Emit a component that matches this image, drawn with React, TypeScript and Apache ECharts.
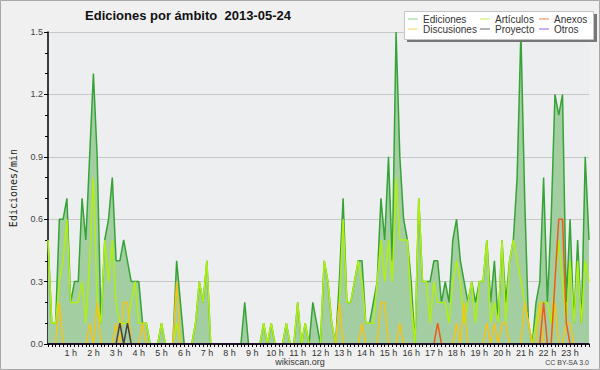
import React, { useEffect, useRef } from 'react';
import * as echarts from 'echarts';

const TITLE = 'Ediciones por ámbito  2013-05-24';
const Y_NAME = 'Ediciones/min';
const HOUR_LABELS = ['1 h','2 h','3 h','4 h','5 h','6 h','7 h','8 h','9 h','10 h','11 h','12 h','13 h','14 h','15 h','16 h','17 h','18 h','19 h','20 h','21 h','22 h','23 h'];

const EDICIONES = [
  0.5, 0.1, 0.1, 0.6, 0.6, 0.7, 0.2, 0.3, 0.3, 0.7, 0.5, 0.9,
  1.3, 0.9, 0.1, 0.5, 0.6, 0.8, 0.4, 0.4, 0.5, 0.4, 0.3, 0.3,
  0.3, 0.1, 0.1, 0, 0, 0, 0.1, 0, 0, 0, 0.4, 0.2,
  0, 0, 0, 0.1, 0.3, 0.2, 0.4, 0, 0, 0, 0, 0,
  0, 0, 0, 0, 0.2, 0, 0, 0, 0, 0.1, 0, 0.1,
  0, 0, 0, 0.1, 0, 0, 0.2, 0, 0.1, 0, 0.2, 0.1,
  0, 0.4, 0.3, 0.1, 0, 0.3, 0.7, 0.2, 0.2, 0.3, 0.4, 0.4,
  0.1, 0.1, 0.2, 0.3, 0.7, 0.5, 0.9, 0.4, 1.5, 0.9, 0.6, 0.5,
  0.3, 0, 0.7, 0.3, 0.3, 0.3, 0.4, 0.4, 0.2, 0.3, 0.2, 0.5,
  0.6, 0.4, 0.3, 0.2, 0.3, 0.2, 0.3, 0.3, 0.5, 0.2, 0.4, 0.1,
  0.5, 0.2, 0.4, 0.5, 0.8, 1.5, 0.7, 0.1, 0, 0.2, 0.3, 0.8,
  0.2, 0.6, 1.2, 1.1, 1.2, 0.2, 0.6, 0.1, 0.5, 0.1, 0.9, 0.5,
];

const ARTICULOS = [
  0.5, 0.1, 0.1, 0.3, 0.4, 0.6, 0.2, 0.2, 0.2, 0.3, 0.1, 0.4,
  0.8, 0.2, 0.1, 0.5, 0.3, 0.5, 0.2, 0.1, 0.1, 0.1, 0.2, 0.3,
  0.1, 0.1, 0.1, 0, 0, 0, 0.1, 0, 0, 0, 0.1, 0,
  0, 0, 0, 0.1, 0.3, 0.2, 0.4, 0, 0, 0, 0, 0,
  0, 0, 0, 0, 0, 0, 0, 0, 0, 0.1, 0, 0.1,
  0, 0, 0, 0.1, 0, 0, 0.2, 0, 0.1, 0, 0, 0,
  0, 0.4, 0.3, 0.1, 0, 0.2, 0.6, 0.2, 0.2, 0.3, 0.4, 0.3,
  0.1, 0.1, 0.1, 0.3, 0.5, 0.3, 0.5, 0.3, 0.8, 0.5, 0.5, 0.5,
  0.2, 0, 0.7, 0.3, 0.3, 0.1, 0.3, 0.2, 0.2, 0.2, 0.1, 0.3,
  0.4, 0.3, 0.1, 0.2, 0.3, 0.1, 0.3, 0.3, 0.5, 0.1, 0.2, 0.1,
  0.5, 0.1, 0.4, 0.5, 0.4, 0.3, 0.2, 0.1, 0, 0.1, 0.2, 0.2,
  0.2, 0.1, 0.3, 0.5, 0.3, 0.1, 0.4, 0.1, 0.4, 0.1, 0.4, 0.3,
];

const DISCUSIONES = [
  0, 0, 0, 0.2, 0, 0, 0, 0, 0, 0, 0, 0.1,
  0, 0.2, 0, 0, 0, 0, 0.1, 0, 0.2, 0.2, 0, 0,
  0, 0.1, 0, 0, 0, 0, 0, 0, 0, 0, 0.3, 0,
  0, 0, 0, 0, 0, 0, 0, 0, 0, 0, 0, 0,
  0, 0, 0, 0, 0, 0, 0, 0, 0, 0, 0, 0,
  0, 0, 0, 0, 0, 0, 0, 0, 0, 0, 0, 0,
  0, 0, 0, 0, 0, 0.2, 0, 0, 0, 0, 0, 0.1,
  0, 0, 0, 0, 0.2, 0.2, 0, 0, 0, 0.1, 0, 0,
  0, 0, 0, 0, 0, 0, 0, 0, 0, 0, 0, 0,
  0.1, 0, 0.2, 0, 0, 0, 0, 0, 0.1, 0, 0.1, 0,
  0.1, 0.1, 0, 0, 0, 0, 0.2, 0.1, 0, 0, 0.2, 0,
  0, 0, 0.2, 0, 0, 0.1, 0.1, 0, 0, 0, 0, 0,
];

const ANEXOS = [
  0, 0, 0, 0, 0, 0, 0, 0, 0, 0, 0, 0,
  0, 0, 0, 0, 0, 0, 0, 0, 0, 0, 0, 0,
  0, 0, 0, 0, 0, 0, 0, 0, 0, 0, 0, 0,
  0, 0, 0, 0, 0, 0, 0, 0, 0, 0, 0, 0,
  0, 0, 0, 0, 0, 0, 0, 0, 0, 0, 0, 0,
  0, 0, 0, 0, 0, 0, 0, 0, 0, 0, 0, 0,
  0, 0, 0, 0, 0, 0, 0, 0, 0, 0, 0, 0,
  0, 0, 0, 0, 0, 0, 0, 0, 0, 0, 0, 0,
  0, 0, 0, 0, 0, 0, 0, 0.1, 0, 0, 0, 0,
  0, 0, 0, 0, 0, 0, 0, 0, 0, 0, 0, 0,
  0, 0, 0, 0, 0, 0, 0, 0, 0, 0, 0, 0.2,
  0, 0, 0.3, 0.6, 0.6, 0.1, 0, 0, 0, 0, 0, 0,
];

const PROYECTO = [
  0, 0, 0, 0, 0, 0, 0, 0, 0, 0, 0, 0,
  0, 0, 0, 0, 0, 0, 0, 0.1, 0, 0.1, 0, 0,
  0, 0, 0, 0, 0, 0, 0, 0, 0, 0, 0, 0,
  0, 0, 0, 0, 0, 0, 0, 0, 0, 0, 0, 0,
  0, 0, 0, 0, 0, 0, 0, 0, 0, 0, 0, 0,
  0, 0, 0, 0, 0, 0, 0, 0, 0, 0, 0, 0,
  0, 0, 0, 0, 0, 0, 0, 0, 0, 0, 0, 0,
  0, 0, 0, 0, 0, 0, 0, 0, 0, 0, 0, 0,
  0, 0, 0, 0, 0, 0, 0, 0, 0, 0, 0, 0,
  0, 0, 0, 0, 0, 0, 0, 0, 0, 0, 0, 0,
  0, 0, 0, 0, 0, 0, 0, 0, 0, 0, 0, 0,
  0, 0, 0, 0, 0, 0, 0, 0, 0, 0, 0, 0,
];

const OTROS = [
  0, 0, 0, 0, 0, 0, 0, 0, 0, 0, 0, 0,
  0, 0, 0, 0, 0, 0, 0, 0, 0, 0, 0, 0,
  0, 0, 0, 0, 0, 0, 0, 0, 0, 0, 0, 0,
  0, 0, 0, 0, 0, 0, 0, 0, 0, 0, 0, 0,
  0, 0, 0, 0, 0, 0, 0, 0, 0, 0, 0, 0,
  0, 0, 0, 0, 0, 0, 0, 0, 0, 0, 0, 0,
  0, 0, 0, 0, 0, 0, 0, 0, 0, 0, 0, 0,
  0, 0, 0, 0, 0, 0, 0, 0, 0, 0, 0, 0,
  0, 0, 0, 0, 0, 0, 0, 0, 0, 0, 0, 0,
  0, 0, 0, 0, 0, 0, 0, 0, 0, 0, 0, 0,
  0, 0, 0, 0, 0, 0, 0, 0, 0, 0, 0, 0,
  0, 0, 0, 0, 0, 0, 0, 0, 0, 0, 0, 0,
];

// 10-minute slots of the day
const CATEGORIES: string[] = [];
for (let h = 0; h < 24; h++) {
  for (let m = 0; m < 60; m += 10) {
    CATEGORIES.push(`${String(h).padStart(2, '0')}:${String(m).padStart(2, '0')}`);
  }
}

const FONT = '"Liberation Sans", Arial, sans-serif';

const SERIES_DEF = [
  { name: 'Ediciones', data: EDICIONES, color: '#36a336', legend: '#8fd08f', area: true },
  { name: 'Artículos', data: ARTICULOS, color: '#b0f010', legend: '#ccf060', area: false },
  { name: 'Discusiones', data: DISCUSIONES, color: '#f4c418', legend: '#f8d860', area: false },
  { name: 'Anexos', data: ANEXOS, color: '#ee5a1c', legend: '#f08050', area: false },
  { name: 'Proyecto', data: PROYECTO, color: '#444444', legend: '#666666', area: false },
  { name: 'Otros', data: OTROS, color: '#8a3cf0', legend: '#9a5cf0', area: false },
];

function legendCol(left: number, names: string[]) {
  return {
    show: true,
    orient: 'vertical',
    left,
    top: 14,
    padding: 0,
    itemGap: 0,
    itemWidth: 10,
    itemHeight: 1,
    icon: 'rect',
    selectedMode: false,
    z: 8,
    data: names,
    textStyle: { fontFamily: FONT, fontSize: 10, color: '#333', lineHeight: 10, padding: [0, 0, 0, 0] },
  };
}

export default function App() {
  const ref = useRef<HTMLDivElement>(null);
  useEffect(() => {
    const chart = echarts.init(ref.current!, null, { renderer: 'svg' });
    const option: any = {
      animation: false,
      backgroundColor: '#f0f0f0',
      grid: {
        left: 47, right: 11, top: 32, bottom: 26,
        show: true, backgroundColor: '#eceef0', borderWidth: 0,
      },
      legend: [
        legendCol(408, ['Ediciones', 'Discusiones']),
        legendCol(480, ['Artículos', 'Proyecto']),
        legendCol(539, ['Anexos', 'Otros']),
      ],
      xAxis: {
        type: 'category',
        data: CATEGORIES,
        boundaryGap: false,
        z: 3,
        axisLine: { show: true, lineStyle: { color: '#000', width: 1.5 } },
        axisTick: { show: true, interval: 0, length: 3, lineStyle: { color: '#000', width: 1 } },
        axisLabel: {
          interval: (i: number) => i > 0 && i % 6 === 0,
          formatter: (_v: string, i: number) => (i > 0 && i % 6 === 0 ? HOUR_LABELS[i / 6 - 1] : ''),
          fontFamily: FONT, fontSize: 9, color: '#333', margin: 4,
        },
        splitLine: { show: false },
      },
      yAxis: {
        type: 'value',
        min: 0, max: 1.5, interval: 0.3,
        name: Y_NAME,
        nameLocation: 'middle',
        nameRotate: 90,
        nameGap: 30,
        nameTextStyle: { fontFamily: '"DejaVu Sans Mono", monospace', fontSize: 10, color: '#222' },
        axisLine: { show: true, lineStyle: { color: '#000', width: 1.5 } },
        axisTick: { show: true, length: 4, lineStyle: { color: '#000' } },
        minorTick: { show: true, splitNumber: 3, length: 3, lineStyle: { color: '#000' } },
        axisLabel: {
          formatter: (v: number) => v.toFixed(1),
          fontFamily: FONT, fontSize: 9, color: '#444', margin: 5,
        },
        splitLine: { show: true, lineStyle: { color: '#c8c8c8', width: 1 } },
      },
      series: SERIES_DEF.map((s) => ({
        name: s.name,
        type: 'line',
        data: s.data,
        showSymbol: false,
        symbol: 'none',
        z: 2,
        color: s.legend,
        lineStyle: { color: s.color, width: 1.5 },
        itemStyle: { color: s.legend },
        areaStyle: s.area ? { color: '#a2cea2', opacity: 1 } : undefined,
        emphasis: { disabled: true },
      })),
      graphic: [
        {
          type: 'rect', z: 20, silent: true,
          shape: { x: 0.5, y: 0.5, width: 599, height: 369 },
          style: { fill: 'none', stroke: '#a8a8a8', lineWidth: 1 },
        },
        {
          type: 'text', z: 7, x: 188, y: 15,
          style: {
            text: TITLE, fontFamily: FONT, fontSize: 13, fontWeight: 'bold', fill: '#111',
            align: 'center', verticalAlign: 'middle', textAlign: 'center', textVerticalAlign: 'middle',
          },
        },
        {
          type: 'rect', z: 6, silent: true,
          shape: { x: 407, y: 14, width: 190, height: 28 },
          style: { fill: '#777777' },
        },
        {
          type: 'rect', z: 7, silent: true,
          shape: { x: 404.5, y: 11.5, width: 189, height: 28 },
          style: { fill: '#ffffff', stroke: '#c4c4c4', lineWidth: 1 },
        },
        {
          type: 'text', z: 7, x: 300, y: 362,
          style: {
            text: 'wikiscan.org', fontFamily: FONT, fontSize: 9, fill: '#333',
            align: 'center', verticalAlign: 'middle', textAlign: 'center', textVerticalAlign: 'middle',
          },
        },
        {
          type: 'text', z: 7, x: 589, y: 362,
          style: {
            text: 'CC BY-SA 3.0', fontFamily: FONT, fontSize: 7, fill: '#444',
            align: 'right', verticalAlign: 'middle', textAlign: 'right', textVerticalAlign: 'middle',
          },
        },
      ],
    };
    chart.setOption(option);
    return () => chart.dispose();
  }, []);
  return <div ref={ref} style={{ position: 'absolute', left: 0, top: 0, width: 600, height: 370 }} />;
}
